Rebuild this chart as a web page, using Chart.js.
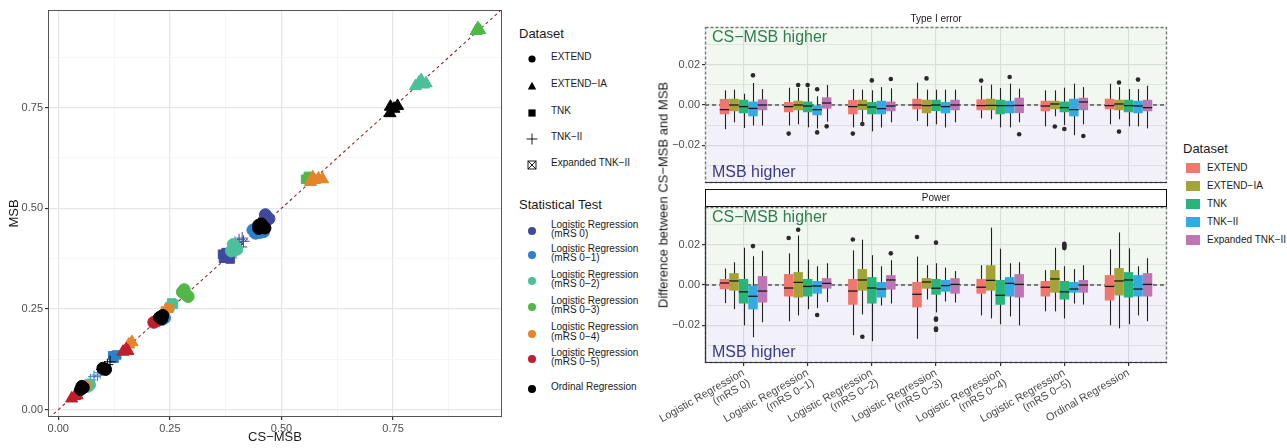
<!DOCTYPE html>
<html>
<head>
<meta charset="utf-8">
<script src="https://cdn.jsdelivr.net/npm/chart.js@4"></script>
<style>
  body { margin: 0; background: #fff; font-family: "Liberation Sans", Arial, sans-serif; }
  #wrap { position: relative; width: 1287px; height: 448px; overflow: hidden; }
  canvas { position: absolute; }
  .t { position: absolute; white-space: nowrap; color: #1a1a1a; }
  .ttl { font-size: 13px; }
  .lab { font-size: 10px; line-height: 9.5px; }
  .sym { position: absolute; }
  .key { position: absolute; width: 14px; height: 10px; }
</style>
</head>
<body>
<div id="wrap">
  <canvas id="scatter" width="510" height="448" style="left:0;top:0"></canvas>
  <canvas id="typeI" width="530" height="190" style="left:650px;top:0"></canvas>
  <canvas id="power" width="530" height="259" style="left:650px;top:189px"></canvas>
  <div id="legends"></div>
  <div class="t ttl" style="left:663px;top:195px;transform:translate(-50%,-50%) rotate(-90deg);">Difference between CS−MSB and MSB</div>
</div>
<script>
// ---- scatter: CS-MSB vs MSB ----
const tests = ['Logistic Regression\n(mRS 0)', 'Logistic Regression\n(mRS 0\u22121)', 'Logistic Regression\n(mRS 0\u22122)',
  'Logistic Regression\n(mRS 0\u22123)', 'Logistic Regression\n(mRS 0\u22124)', 'Logistic Regression\n(mRS 0\u22125)', 'Ordinal Regression'];
const testColors = ['#3F4A9F', '#2E80CB', '#4CBF9B', '#51B848', '#E6842A', '#BE1E2D', '#000000'];
const datasetNames = ['EXTEND', 'EXTEND\u2212IA', 'TNK', 'TNK\u2212II', 'Expanded TNK\u2212II'];
const shapes = ['circle', 'triangle', 'rect', 'cross', 'rectRot'];

const lr0Extend = [[0.46,0.468],[0.467,0.478],[0.472,0.474],[0.464,0.484]];
const lr0Tnk = [[0.37,0.376],[0.378,0.382],[0.385,0.374],[0.376,0.39],[0.368,0.386]];
const lr0Tnk2 = [[0.392,0.398],[0.402,0.41],[0.41,0.404],[0.405,0.422],[0.415,0.418],[0.386,0.385],[0.398,0.39],[0.396,0.415],[0.412,0.426]];
const lr01Extend = [[0.442,0.438],[0.452,0.44],[0.46,0.442],[0.436,0.446],[0.232,0.224],[0.238,0.228]];
const lr01Tnk = [[0.125,0.128],[0.131,0.136],[0.122,0.134]];
const lr01Tnk2 = [[0.072,0.074],[0.08,0.082],[0.088,0.086],[0.094,0.092]];
const lr02ExtendIA = [[0.8,0.803],[0.808,0.812],[0.818,0.807],[0.813,0.818],[0.824,0.81]];
const lr02Extend = [[0.388,0.394],[0.396,0.404],[0.392,0.41],[0.4,0.398],[0.066,0.058],[0.07,0.062]];
const lr02Tnk = [[0.25,0.256],[0.258,0.262],[0.254,0.265]];
const lr03ExtendIA = [[0.936,0.94],[0.944,0.942],[0.94,0.947]];
const lr03Extend = [[0.278,0.292],[0.285,0.286],[0.282,0.298],[0.291,0.281]];
const lr03Tnk = [[0.554,0.572],[0.56,0.579]];
const lr04ExtendIA = [[0.565,0.565],[0.574,0.57],[0.583,0.574],[0.57,0.577],[0.592,0.572],[0.158,0.162],[0.165,0.168]];
const lr04Tnk = [[0.24,0.245],[0.248,0.252],[0.062,0.06]];
const lr05ExtendIA = [[0.145,0.144],[0.152,0.15],[0.156,0.146],[0.03,0.028],[0.037,0.034],[0.042,0.036]];
const lr05Extend = [[0.214,0.217],[0.221,0.221]];
const ordExtendIA = [[0.744,0.752],[0.752,0.747],[0.76,0.754],[0.743,0.736]];
const ordExtend = [[0.449,0.45],[0.457,0.455],[0.463,0.451],[0.455,0.461],[0.449,0.458],[0.05,0.05],[0.056,0.055],[0.053,0.058]];
const ordTnk = [[0.227,0.229],[0.234,0.234],[0.232,0.226],[0.1,0.103],[0.106,0.1]];
const ordTnk2 = [[0.098,0.1],[0.104,0.106],[0.11,0.112],[0.116,0.119]];

// [test index, dataset index, points]
const series = [
  [0, 0, lr0Extend], [0, 2, lr0Tnk], [0, 3, lr0Tnk2],
  [1, 0, lr01Extend], [1, 2, lr01Tnk], [1, 3, lr01Tnk2],
  [2, 1, lr02ExtendIA], [2, 0, lr02Extend], [2, 2, lr02Tnk],
  [3, 1, lr03ExtendIA], [3, 0, lr03Extend], [3, 2, lr03Tnk],
  [4, 1, lr04ExtendIA], [4, 2, lr04Tnk],
  [5, 1, lr05ExtendIA], [5, 0, lr05Extend],
  [6, 1, ordExtendIA], [6, 0, ordExtend], [6, 0, ordTnk], [6, 3, ordTnk2]
];

// ---- boxplots: [lower whisker, q1, median, q3, upper whisker] per test ----
const groups = [['Logistic Regression', '(mRS 0)'], ['Logistic Regression', '(mRS 0\u22121)'], ['Logistic Regression', '(mRS 0\u22122)'],
  ['Logistic Regression', '(mRS 0\u22123)'], ['Logistic Regression', '(mRS 0\u22124)'], ['Logistic Regression', '(mRS 0\u22125)'], 'Ordinal Regression'];
const boxColors = ['#F0776F', '#A3A33A', '#27B57B', '#33ABE2', '#BD76B3'];

const t1Extend = [[-0.012,-0.0046,-0.0023,0.003,0.0073],[-0.0102,-0.0036,-0.0008,0.0015,0.0086],[-0.0111,-0.0046,-0.0008,0.0025,0.0079],
  [-0.0079,-0.0021,0,0.0031,0.0111],[-0.0066,-0.0026,-0.0003,0.0028,0.0096],[-0.0106,-0.0031,-0.0005,0.0021,0.0073],[-0.0096,-0.0021,-0.0003,0.0031,0.0106]];
const t1ExtendIA = [[-0.0086,-0.0031,0,0.0031,0.0076],[-0.0096,-0.0026,0,0.0021,0.0084],[-0.0084,-0.0025,0,0.0026,0.0076],
  [-0.0106,-0.0041,-0.0003,0.0026,0.0076],[-0.0071,-0.0026,-0.0002,0.0031,0.0101],[-0.0056,-0.0021,0.0005,0.0021,0.0073],[-0.0071,-0.0026,0.0005,0.0026,0.0089]];
const t1Tnk = [[-0.0114,-0.0041,-0.0008,0.0026,0.0056],[-0.0111,-0.0036,-0.0005,0.0017,0.0086],[-0.0131,-0.0046,-0.001,0.0015,0.0073],
  [-0.0096,-0.003,0,0.0026,0.0076],[-0.0111,-0.0046,-0.0003,0.0026,0.0084],[-0.0099,-0.0036,-0.0013,0.0017,0.0086],[-0.0106,-0.0036,-0.0003,0.0026,0.0079]];
const t1Tnk2 = [[-0.0102,-0.0056,-0.0017,0.0017,0.0109],[-0.0117,-0.0051,-0.0023,-0.0002,0.0043],[-0.0112,-0.0046,-0.0018,0.0021,0.0089],
  [-0.0112,-0.0041,-0.0008,0.0015,0.0076],[-0.0111,-0.0041,-0.0003,0.0021,0.0106],[-0.015,-0.0056,-0.0023,0.0031,0.0106],[-0.0106,-0.0041,-0.0005,0.0021,0.0079]];
const t1ExpTnk2 = [[-0.0102,-0.0026,0,0.0028,0.0079],[-0.0083,-0.0018,0.001,0.0038,0.0099],[-0.0086,-0.0031,-0.0005,0.0017,0.0083],
  [-0.0086,-0.0026,0,0.0026,0.0076],[-0.0086,-0.004,-0.0002,0.0036,0.0081],[-0.0096,-0.0026,0.0015,0.0036,0.0089],[-0.0116,-0.0031,-0.0013,0.0026,0.0096]];
// [test, dataset, value]
const t1Out = [[0,3,0.0147],[1,0,-0.0142],[1,1,0.0099],[1,2,0.0099],[1,3,0.0078],[1,3,-0.0136],[1,4,-0.0106],
  [2,0,-0.0142],[2,1,-0.0094],[2,2,0.0122],[2,4,0.0129],[3,1,0.0132],[4,0,0.0121],[4,3,0.0139],[4,4,-0.0145],
  [5,1,-0.0107],[5,2,-0.0119],[5,4,-0.0154],[6,1,0.0112],[6,1,-0.0132],[6,3,0.0126]];

const pwExtend = [[-0.009,-0.0021,0.001,0.003,0.0082],[-0.018,-0.0057,-0.0015,0.0054,0.0157],[-0.0249,-0.0098,-0.003,0.003,0.0172],
  [-0.0267,-0.0111,-0.0046,0.0015,0.0141],[-0.0151,-0.0043,-0.0011,0.003,0.0098],[-0.0131,-0.0057,-0.0011,0.002,0.0074],[-0.02,-0.0077,-0.0007,0.0049,0.0177]];
const pwExtendIA = [[-0.012,-0.0028,0.002,0.0059,0.0113],[-0.0151,-0.0062,0.0013,0.0064,0.0246],[-0.0146,-0.0028,0.0025,0.0079,0.0225],
  [-0.0072,-0.0018,0.0015,0.0034,0.0098],[-0.0166,-0.0028,0.0023,0.0098,0.0285],[-0.0131,-0.0038,0.003,0.0074,0.0185],[-0.0215,-0.0052,0.002,0.0084,0.0261]];
const pwTnk = [[-0.02,-0.0092,-0.0034,0.003,0.0185],[-0.012,-0.0057,-0.0007,0.003,0.0126],[-0.0279,-0.0092,-0.0015,0.0039,0.0148],
  [-0.0136,-0.0048,-0.0016,0.003,0.0108],[-0.0195,-0.0098,-0.0051,0.0025,0.018],[-0.0166,-0.0072,-0.0034,0.002,0.0093],[-0.0195,-0.0062,0.0025,0.0064,0.0182]];
const pwTnk2 = [[-0.0259,-0.0121,-0.0056,0,0.0143],[-0.0115,-0.0043,-0.0005,0.002,0.0093],[-0.0102,-0.0062,-0.002,0.0015,0.0093],
  [-0.0082,-0.0033,-0.0003,0.0025,0.0087],[-0.0156,-0.0057,0.0008,0.0039,0.0108],[-0.0092,-0.0038,-0.002,0.0015,0.0079],[-0.0151,-0.0057,-0.002,0.0049,0.0093]];
const pwExpTnk2 = [[-0.0185,-0.0087,-0.003,0.0044,0.017],[-0.0085,-0.0018,0.0008,0.0034,0.0108],[-0.0092,-0.0023,0.0025,0.0049,0.0123],
  [-0.0087,-0.0043,0.0003,0.0034,0.0069],[-0.02,-0.0062,0.0003,0.0054,0.0113],[-0.0097,-0.0038,0,0.0025,0.0098],[-0.018,-0.0057,0.0003,0.0059,0.0133]];
const pwOut = [[0,3,0.0193],[1,0,0.0233],[1,1,0.0274],[1,3,-0.0149],[2,0,0.0226],[2,1,-0.0257],[2,4,0.0157],
  [3,0,0.0238],[3,2,0.021],[3,2,-0.0167],[3,2,-0.0172],[3,2,-0.0216],[3,2,-0.0223],
  [5,2,0.0205],[5,2,0.0197],[5,2,0.019],[5,2,0.0183]];

const boxTicks = [-0.03, -0.02, -0.01, 0, 0.01, 0.02, 0.03];
const scatterTicks = [0, 0.125, 0.25, 0.375, 0.5, 0.625, 0.75, 0.875];

const FONT = '"Liberation Sans", Arial, sans-serif';
const tickGrey = '#4D4D4D';

// ---------- scatter ----------
const isQuarter = v => Math.abs(v * 4 - Math.round(v * 4)) < 1e-9;
const scatterBorder = {
  id: 'scatterBorder',
  afterDraw(chart) {
    const { ctx, chartArea: a } = chart;
    ctx.save();
    ctx.strokeStyle = '#555';
    ctx.lineWidth = 1;
    ctx.strokeRect(a.left + 0.5, a.top + 0.5, a.width - 1, a.height - 1);
    ctx.restore();
  }
};

function scatterAxis(title, min, max, isY) {
  return {
    type: 'linear', min: min, max: max,
    afterBuildTicks: s => { s.ticks = scatterTicks.map(v => ({ value: v })); },
    afterFit: s => {
      if (isY) s.width = 48; else s.height = 31;
      s.paddingLeft = 0; s.paddingRight = 0; s.paddingTop = 0; s.paddingBottom = 0;
    },
    border: { display: false },
    grid: {
      color: c => isQuarter(c.tick.value) ? '#E6E6E6' : '#F2F2F2',
      lineWidth: c => isQuarter(c.tick.value) ? 1.2 : 0.7,
      tickColor: c => isQuarter(c.tick.value) ? '#333' : 'rgba(0,0,0,0)',
      tickLength: 3
    },
    ticks: {
      color: tickGrey, padding: 2, font: { family: FONT, size: 11 },
      autoSkip: false, maxRotation: 0,
      callback: v => isQuarter(v) ? v.toFixed(2) : ''
    },
    title: {
      display: true, text: title, color: '#1a1a1a',
      font: { family: FONT, size: 13 },
      padding: isY ? { top: 7 } : { bottom: 3 }
    }
  };
}

const scatterSets = series.map(([ti, di, pts]) => ({
  type: 'scatter',
  data: pts.map(p => ({ x: p[0], y: p[1] })),
  pointStyle: shapes[di],
  pointRadius: di === 1 ? 7 : 6,
  backgroundColor: testColors[ti],
  borderColor: testColors[ti],
  borderWidth: 1,
  order: 20 - ti
}));
scatterSets.push({
  type: 'line',
  data: [{ x: -0.05, y: -0.05 }, { x: 1.05, y: 1.05 }],
  borderColor: '#9B2226', borderWidth: 1.1, borderDash: [3, 3],
  pointRadius: 0, order: 100
});

new Chart(document.getElementById('scatter'), {
  type: 'scatter',
  data: { datasets: scatterSets },
  options: {
    responsive: false, animation: false, events: [],
    layout: { padding: { top: 10, right: 8, left: 0, bottom: 0 } },
    scales: {
      x: scatterAxis('CS\u2212MSB', -0.023, 0.994, false),
      y: scatterAxis('MSB', -0.018, 0.992, true)
    },
    plugins: { legend: { display: false }, tooltip: { enabled: false } }
  },
  plugins: [scatterBorder]
});

// ---------- boxplot panels ----------
const isMajorBox = v => Math.round(v * 100) % 2 === 0;
const fmtBox = v => {
  const r = Math.round(v * 100) / 100;
  if (r === 0) return '0.00';
  return (r < 0 ? '\u2212' : '') + Math.abs(r).toFixed(2);
};

function boxPlugin(stripText, boxedStrip, outliers) {
  return {
    id: 'boxExtras',
    beforeDatasetsDraw(chart) {
      const { ctx, chartArea: a, scales: { y } } = chart;
      const y0 = y.getPixelForValue(0);
      ctx.save();
      ctx.fillStyle = 'rgba(150,205,140,0.14)';
      ctx.fillRect(a.left, a.top, a.width, y0 - a.top);
      ctx.fillStyle = 'rgba(140,130,205,0.11)';
      ctx.fillRect(a.left, y0, a.width, a.bottom - y0);
      // zero line
      ctx.strokeStyle = '#111';
      ctx.lineWidth = 1.1;
      ctx.setLineDash([4, 3]);
      ctx.beginPath();
      ctx.moveTo(a.left, y0); ctx.lineTo(a.right, y0);
      ctx.stroke();
      ctx.setLineDash([]);
      // whiskers
      ctx.strokeStyle = '#222';
      ctx.lineWidth = 1.1;
      chart.data.datasets.forEach((ds, di) => {
        chart.getDatasetMeta(di).data.forEach((bar, gi) => {
          const s = ds.stats[gi];
          ctx.beginPath();
          ctx.moveTo(Math.round(bar.x) + 0.5, y.getPixelForValue(s[0]));
          ctx.lineTo(Math.round(bar.x) + 0.5, y.getPixelForValue(s[4]));
          ctx.stroke();
        });
      });
      ctx.restore();
    },
    afterDatasetsDraw(chart) {
      const { ctx, chartArea: a, scales: { y } } = chart;
      ctx.save();
      // medians
      ctx.strokeStyle = '#1a1a1a';
      ctx.lineWidth = 1.3;
      chart.data.datasets.forEach((ds, di) => {
        chart.getDatasetMeta(di).data.forEach((bar, gi) => {
          const py = y.getPixelForValue(ds.stats[gi][2]);
          ctx.beginPath();
          ctx.moveTo(bar.x - bar.width / 2, py);
          ctx.lineTo(bar.x + bar.width / 2, py);
          ctx.stroke();
        });
      });
      // outliers
      ctx.fillStyle = '#2a2a2a';
      outliers.forEach(([gi, di, v]) => {
        const bar = chart.getDatasetMeta(di).data[gi];
        ctx.beginPath();
        ctx.arc(bar.x, y.getPixelForValue(v), 2.3, 0, Math.PI * 2);
        ctx.fill();
      });
      // labels inside panel
      ctx.font = '16px ' + FONT;
      ctx.textBaseline = 'middle';
      ctx.textAlign = 'left';
      ctx.fillStyle = '#2E7D4F';
      ctx.fillText('CS\u2212MSB higher', a.left + 7, a.top + 11);
      ctx.fillStyle = '#3A3A8A';
      ctx.fillText('MSB higher', a.left + 7, a.bottom - 10);
      // panel border: dashed shaded-area outline, solid axes
      ctx.strokeStyle = '#777';
      ctx.lineWidth = 1.4;
      ctx.setLineDash([3, 2]);
      ctx.strokeRect(a.left + 0.5, a.top + 0.5, a.width - 1, a.height - 1);
      ctx.setLineDash([]);
      ctx.strokeStyle = '#333';
      ctx.lineWidth = 1.2;
      ctx.beginPath();
      ctx.moveTo(a.left, a.bottom - 0.5); ctx.lineTo(a.right, a.bottom - 0.5);
      if (boxedStrip) { ctx.moveTo(a.left + 0.5, a.top); ctx.lineTo(a.left + 0.5, a.bottom); }
      ctx.stroke();
      // strip
      ctx.fillStyle = '#1a1a1a';
      ctx.font = '10px ' + FONT;
      ctx.textAlign = 'center';
      if (boxedStrip) {
        ctx.strokeStyle = '#111';
        ctx.lineWidth = 1;
        ctx.strokeRect(a.left + 0.5, 0.5, a.width - 1, a.top - 1);
        ctx.fillText(stripText, (a.left + a.right) / 2, a.top / 2 + 0.5);
      } else {
        ctx.fillText(stripText, (a.left + a.right) / 2, a.top - 8);
      }
      ctx.restore();
    }
  };
}

function boxChart(id, stats, outliers, stripText, bottomPanel) {
  const datasets = stats.map((st, di) => ({
    type: 'bar',
    data: st.map((s, gi) => ({ x: gi, y: [s[1], s[3]] })),
    stats: st,
    backgroundColor: boxColors[di],
    borderWidth: 0,
    barPercentage: 1,
    categoryPercentage: 0.74
  }));
  new Chart(document.getElementById(id), {
    type: 'bar',
    data: { datasets: datasets },
    options: {
      responsive: false, animation: false, events: [],
      layout: { padding: bottomPanel ? { top: 18, right: 13, left: 0, bottom: 0 } : { top: 27, right: 13, left: 0, bottom: 7 } },
      scales: {
        x: {
          type: 'linear', min: -0.6, max: 6.6, offset: false,
          afterBuildTicks: s => { s.ticks = groups.map((g, i) => ({ value: i })); },
          afterFit: s => {
            s.height = bottomPanel ? 85 : 0;
            s.paddingLeft = 0; s.paddingRight = 0;
          },
          border: { display: false },
          grid: { offset: false, color: '#E3E3E3', lineWidth: 1.2, drawTicks: bottomPanel, tickLength: 3, tickColor: '#333' },
          ticks: {
            display: bottomPanel, autoSkip: false, minRotation: 30, maxRotation: 30,
            padding: 1, color: tickGrey, font: { family: FONT, size: 11, lineHeight: 1.05 },
            callback: v => groups[v]
          }
        },
        y: {
          type: 'linear', min: -0.0387, max: 0.0387,
          afterBuildTicks: s => { s.ticks = boxTicks.map(v => ({ value: v })); },
          afterFit: s => { s.width = 55; s.paddingTop = 0; s.paddingBottom = 0; },
          border: { display: false },
          grid: {
            color: '#E3E3E3',
            lineWidth: c => isMajorBox(c.tick.value) ? 1.2 : 0.7,
            tickColor: c => isMajorBox(c.tick.value) ? '#333' : 'rgba(0,0,0,0)',
            tickLength: 3
          },
          ticks: {
            color: tickGrey, padding: 2, font: { family: FONT, size: 11 },
            callback: v => isMajorBox(v) ? fmtBox(v) : ''
          }
        }
      },
      plugins: { legend: { display: false }, tooltip: { enabled: false } }
    },
    plugins: [boxPlugin(stripText, bottomPanel, outliers)]
  });
}

boxChart('typeI', [t1Extend, t1ExtendIA, t1Tnk, t1Tnk2, t1ExpTnk2], t1Out, 'Type I error', false);
boxChart('power', [pwExtend, pwExtendIA, pwTnk, pwTnk2, pwExpTnk2], pwOut, 'Power', true);

// ---------- legends (HTML) ----------
const L = document.getElementById('legends');
function addText(html, left, top, cls, extra) {
  const d = document.createElement('div');
  d.className = 't ' + cls;
  d.style.left = left + 'px';
  d.style.top = top + 'px';
  if (extra) d.style.cssText += extra;
  d.innerHTML = html;
  L.appendChild(d);
  return d;
}
const symbolSvg = [
  '<circle cx="6" cy="6" r="3.6" fill="#000"/>',
  '<path d="M6 1.8 L10.2 9.4 L1.8 9.4 Z" fill="#000"/>',
  '<rect x="2.4" y="2.4" width="7.2" height="7.2" fill="#000"/>',
  '<path d="M6 0.5 V11.5 M0.5 6 H11.5" stroke="#000" stroke-width="0.9"/>',
  '<rect x="2" y="2" width="8" height="8" fill="none" stroke="#000" stroke-width="0.9"/><path d="M2 2 L10 10 M10 2 L2 10" stroke="#000" stroke-width="0.9"/>'
];
const dsY = [57.3, 84, 110.7, 136.7, 163.3];
addText('Dataset', 519, 25.5, 'ttl');
datasetNames.forEach((n, i) => {
  addText('<svg width="12" height="12">' + symbolSvg[i] + '</svg>', 526, dsY[i] - 6, 'sym');
  addText(n, 551, dsY[i] - 5, 'lab');
});
const testY = [229.3, 253.3, 279.3, 305.3, 331.7, 357.3, 386.7];
addText('Statistical Test', 519, 196.5, 'ttl');
tests.forEach((n, i) => {
  addText('<svg width="12" height="12"><circle cx="6" cy="6" r="4" fill="' + testColors[i] + '"/></svg>', 526, testY[i] - 6, 'sym');
  const lines = n.split('\n');
  addText(lines.join('<br>'), 551, testY[i] - lines.length * 4.75, 'lab');
});
const keyY = [167.5, 185.5, 203.5, 221.5, 239.5];
addText('Dataset', 1183, 140.5, 'ttl');
datasetNames.forEach((n, i) => {
  addText('', 1186, keyY[i] - 5, 'key', 'background:' + boxColors[i] + ';');
  addText(n, 1207, keyY[i] - 5, 'lab');
});
</script>
</body>
</html>
